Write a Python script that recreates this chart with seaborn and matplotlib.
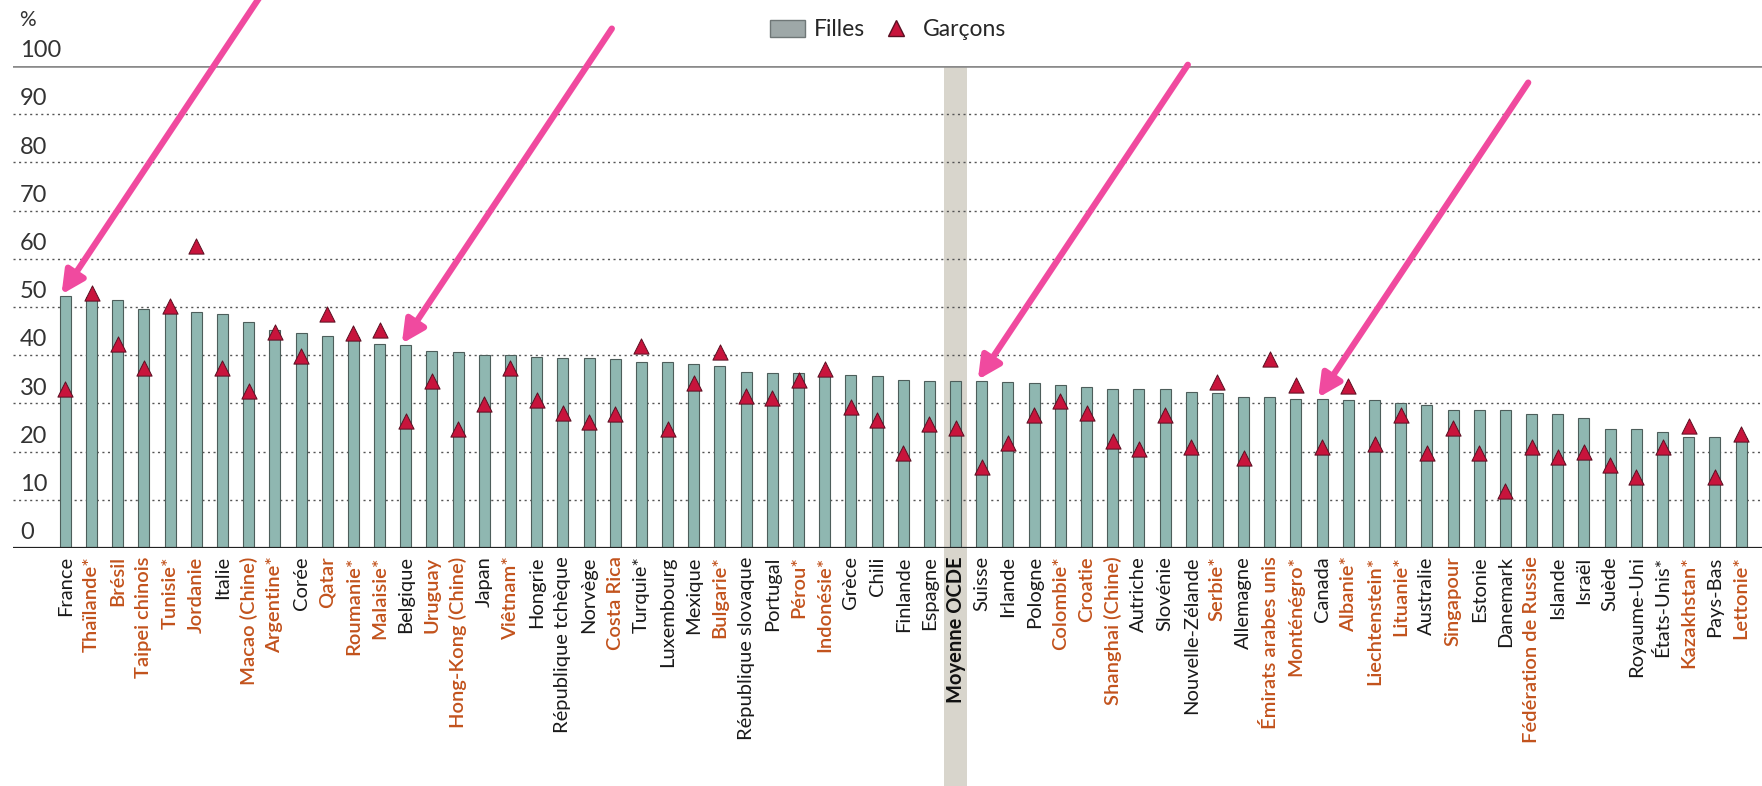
import matplotlib
matplotlib.use("Agg")
import matplotlib.pyplot as plt
from matplotlib.patches import Patch, Rectangle
from matplotlib.lines import Line2D
import seaborn as sns
import pandas as pd

# ---------------- données ----------------
pays = ['France', 'Thaïlande*', 'Brésil', 'Taipei chinois', 'Tunisie*', 'Jordanie', 'Italie',
        'Macao (Chine)', 'Argentine*', 'Corée', 'Qatar', 'Roumanie*', 'Malaisie*', 'Belgique',
        'Uruguay', 'Hong-Kong (Chine)', 'Japan', 'Viêtnam*', 'Hongrie', 'République tchèque',
        'Norvège', 'Costa Rica', 'Turquie*', 'Luxembourg', 'Mexique', 'Bulgarie*',
        'République slovaque', 'Portugal', 'Pérou*', 'Indonésie*', 'Grèce', 'Chili', 'Finlande',
        'Espagne', 'Moyenne OCDE', 'Suisse', 'Irlande', 'Pologne', 'Colombie*', 'Croatie',
        'Shanghai (Chine)', 'Autriche', 'Slovénie', 'Nouvelle-Zélande', 'Serbie*', 'Allemagne',
        'Émirats arabes unis', 'Monténégro*', 'Canada', 'Albanie*', 'Liechtenstein*', 'Lituanie*',
        'Australie', 'Singapour', 'Estonie', 'Danemark', 'Fédération de Russie', 'Islande',
        'Israël', 'Suède', 'Royaume-Uni', 'États-Unis*', 'Kazakhstan*', 'Pays-Bas', 'Lettonie*']

filles = [52.3, 52.0, 51.4, 49.5, 49.2, 49.0, 48.6, 46.8, 45.2, 44.6,
          43.9, 43.7, 42.3, 42.1, 40.9, 40.7, 40.1, 40.0, 39.7, 39.5,
          39.4, 39.2, 38.5, 38.5, 38.1, 37.8, 36.6, 36.3, 36.2, 36.1,
          35.9, 35.7, 34.9, 34.7, 34.6, 34.6, 34.5, 34.2, 33.9, 33.5,
          33.0, 33.0, 32.9, 32.3, 32.1, 31.4, 31.4, 31.0, 30.9, 30.8,
          30.6, 30.1, 29.7, 28.7, 28.7, 28.6, 27.9, 27.9, 27.0, 24.6,
          24.6, 24.0, 23.0, 23.0, 22.8]

garcons = [33.0, 53.0, 42.3, 37.4, 50.2, 62.6, 37.4, 32.5, 44.8, 39.9,
           48.5, 44.7, 45.2, 26.4, 34.7, 24.7, 29.9, 37.4, 30.6, 28.1,
           26.1, 27.8, 41.9, 24.7, 34.2, 40.7, 31.6, 31.2, 34.9, 37.2,
           29.2, 26.6, 19.7, 25.7, 24.8, 16.9, 21.8, 27.6, 30.4, 28.1,
           22.1, 20.6, 27.6, 21.0, 34.5, 18.7, 39.3, 33.8, 20.9, 33.7,
           21.6, 27.6, 19.7, 24.8, 19.7, 11.9, 21.0, 18.8, 20.0, 17.3,
           14.7, 21.0, 25.4, 14.7, 23.7]

# pays partenaires (étiquettes en orange)
partenaires = ['Thaïlande*', 'Brésil', 'Taipei chinois', 'Tunisie*', 'Jordanie', 'Macao (Chine)',
               'Argentine*', 'Qatar', 'Roumanie*', 'Malaisie*', 'Uruguay', 'Hong-Kong (Chine)',
               'Viêtnam*', 'Costa Rica', 'Bulgarie*', 'Pérou*', 'Indonésie*', 'Colombie*',
               'Croatie', 'Shanghai (Chine)', 'Serbie*', 'Émirats arabes unis', 'Monténégro*',
               'Albanie*', 'Liechtenstein*', 'Lituanie*', 'Singapour', 'Fédération de Russie',
               'Kazakhstan*', 'Lettonie*']

# pays signalés par les flèches
fleches = ['France', 'Belgique', 'Suisse', 'Canada']

yticks = [0, 10, 20, 30, 40, 50, 60, 70, 80, 90, 100]

df = pd.DataFrame({'pays': pays, 'Filles': filles, 'Garçons': garcons})

# ---------------- style ----------------
sns.set_theme(style='white')
plt.rcParams['font.family'] = ['Lato', 'DejaVu Sans']

BAR = '#8fb7b1'
TRI = '#c8143c'
ORANGE = '#c2521c'
PINK = '#f04a9f'

fig = plt.figure(figsize=(17.62, 7.86), dpi=100)
ax = fig.add_axes([0.0074, 0.3028, 0.9926, 0.6133])

# bande grise derrière la moyenne OCDE
i_oc = pays.index('Moyenne OCDE')
band = Rectangle((i_oc - 0.45, -0.5), 0.9, 1.5, transform=ax.get_xaxis_transform(),
                 facecolor='#d8d5cc', edgecolor='none', zorder=0.5, clip_on=False)
ax.add_patch(band)

# quadrillage
for v in yticks[1:-1]:
    ax.axhline(v, color='#555555', lw=1.0, ls=(0, (1.5, 2.5)), zorder=1)
ax.axhline(100, color='#8a8a8a', lw=2.6, zorder=1)
ax.axhline(0, color='#222222', lw=1.6, zorder=4)

sns.barplot(data=df, x='pays', y='Filles', color=BAR, width=0.42, edgecolor='#4d5e5b',
            linewidth=0.8, saturation=1, ax=ax, zorder=2)
sns.scatterplot(data=df, x='pays', y='Garçons', marker='^', s=120, color=TRI,
                edgecolor='#5a0f22', linewidth=0.7, ax=ax, zorder=3, legend=False)

ax.set_xlim(-2.0, len(pays) - 0.2)
ax.set_ylim(0, 100)
ax.set_xlabel('')
ax.set_ylabel('')
for s in ax.spines.values():
    s.set_visible(False)
ax.set_yticks([])

# étiquettes de l'axe y au-dessus des lignes
for v in yticks:
    ax.text(0.004, v + 1.0, str(v), transform=ax.get_yaxis_transform(), ha='left',
            va='bottom', fontsize=17, color='#333333')
fig.text(0.011, 0.962, '%', fontsize=15, color='#333333', ha='left', va='bottom')

# étiquettes des pays
ax.tick_params(axis='x', length=0, pad=6)
ax.set_xticks(range(len(pays)))
ax.set_xticklabels(pays, rotation=90, fontsize=14.5, va='top', ha='center')
for lab in ax.get_xticklabels():
    t = lab.get_text()
    if t in partenaires:
        lab.set_color(ORANGE)
        lab.set_fontweight('semibold')
    elif t == 'Moyenne OCDE':
        lab.set_color('#111111')
        lab.set_fontweight('bold')
    else:
        lab.set_color('#1a1a1a')

# flèches roses
for p in fleches:
    i = pays.index(p)
    ax.annotate('', xy=(i - 0.15, filles[i] + 0.3), xytext=(210, 315), textcoords='offset pixels',
                arrowprops=dict(arrowstyle='-|>', color=PINK, lw=4.5, mutation_scale=34,
                                shrinkA=0, shrinkB=0),
                annotation_clip=False, zorder=6)

# légende
handles = [Patch(facecolor='#9ea8a8', edgecolor='#6f7777', label='Filles'),
           Line2D([], [], marker='^', ls='none', color=TRI, markeredgecolor='#5a0f22',
                  markersize=11, label='Garçons')]
fig.legend(handles=handles, loc='center', bbox_to_anchor=(0.504, 0.962), ncol=2,
           frameon=False, fontsize=16.5, handlelength=1.5, handleheight=0.8,
           columnspacing=0.6, handletextpad=0.4)

plt.savefig('out.png', dpi=100)
plt.close()
